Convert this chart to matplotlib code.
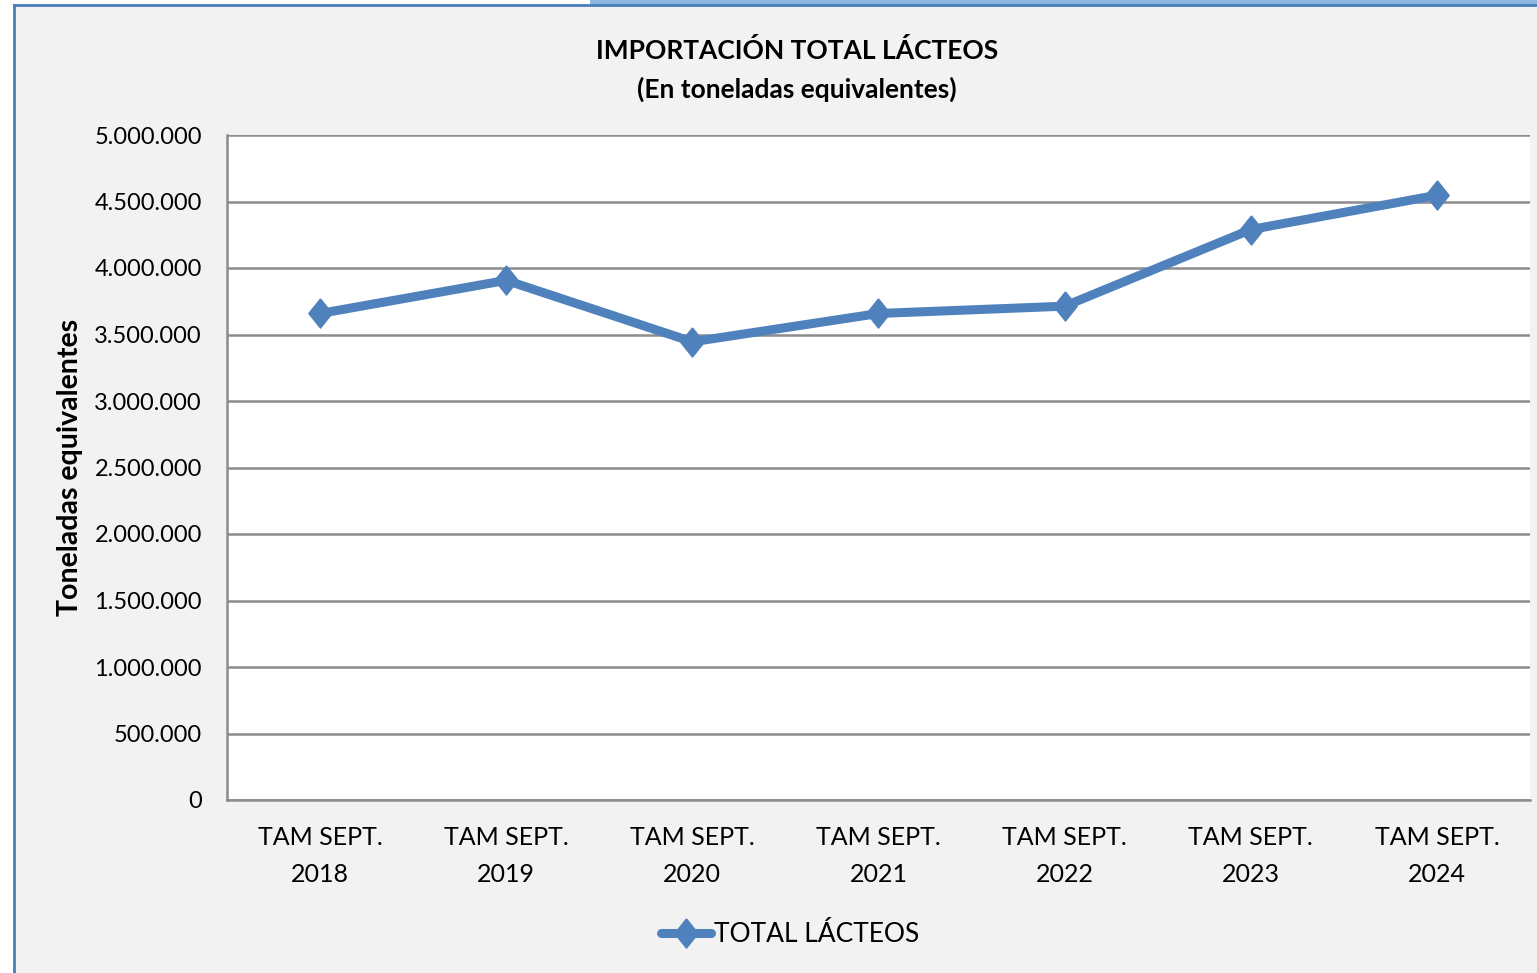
import matplotlib
matplotlib.use("Agg")
import matplotlib.pyplot as plt
from matplotlib.lines import Line2D
from matplotlib.patches import Rectangle
from matplotlib.ticker import FuncFormatter

categories = ["TAM SEPT.\n2018", "TAM SEPT.\n2019", "TAM SEPT.\n2020", "TAM SEPT.\n2021",
              "TAM SEPT.\n2022", "TAM SEPT.\n2023", "TAM SEPT.\n2024"]
total_lacteos = [3658000, 3907000, 3445000, 3658000, 3713000, 4289000, 4547000]
y_ticks = [0, 500000, 1000000, 1500000, 2000000, 2500000, 3000000, 3500000, 4000000, 4500000, 5000000]

plt.rcParams['font.family'] = ['Lato', 'DejaVu Sans']
W, H = 1537, 973
fig = plt.figure(figsize=(W / 100, H / 100), dpi=100)
fig.patch.set_facecolor('#f2f2f2')

# border / top decoration
fig.add_artist(Rectangle((0, 1 - 5 / H), 1, 5 / H, transform=fig.transFigure,
                         facecolor='#ffffff', edgecolor='none'))
fig.add_artist(Rectangle((590 / W, 1 - 5 / H), 1, 5 / H, transform=fig.transFigure,
                         facecolor='#8fb8e0', edgecolor='none'))
fig.add_artist(Rectangle((0, 0), 13 / W, 1 - 5 / H, transform=fig.transFigure,
                         facecolor='#ffffff', edgecolor='none'))
fig.add_artist(Line2D([14 / W, 14 / W], [0, 1 - 5 / H], transform=fig.transFigure,
                      color='#4a7ebb', lw=2))
fig.add_artist(Line2D([14 / W, 1], [1 - 5 / H, 1 - 5 / H], transform=fig.transFigure,
                      color='#4a7ebb', lw=2))

ax = fig.add_axes([227 / W, 1 - 800 / H, (1530 - 227) / W, (800 - 135) / H])
ax.set_facecolor('white')
x = list(range(len(categories)))
diamond = [(0, 1), (0.8, 0), (0, -1), (-0.8, 0), (0, 1)]
line, = ax.plot(x, total_lacteos, color='#4f81bd', lw=6.5, marker=diamond, markersize=21,
                solid_capstyle='round', solid_joinstyle='round', zorder=3,
                label='TOTAL LÁCTEOS')

ax.set_xlim(-0.5, len(categories) - 0.5)
ax.set_ylim(0, 5000000)
ax.set_yticks(y_ticks)
ax.yaxis.set_major_formatter(FuncFormatter(lambda v, p: f"{int(v):,}".replace(",", ".")))
ax.set_xticks(x)
ax.set_xticklabels(categories, fontsize=18, linespacing=1.7)
ax.tick_params(axis='y', labelsize=17, length=0, pad=18)
ax.tick_params(axis='x', length=0, pad=19)
ax.grid(axis='y', color='#8c8c8c', lw=1.8)
ax.set_axisbelow(True)
for s in ['top', 'right']:
    ax.spines[s].set_visible(False)
for s in ['left', 'bottom']:
    ax.spines[s].set_color('#8c8c8c')
    ax.spines[s].set_linewidth(1.8)

ax.set_ylabel('Toneladas equivalentes', fontsize=20.5, fontweight='bold', labelpad=8)
fig.text(797 / W, 1 - 70 / H, 'IMPORTACIÓN TOTAL LÁCTEOS\n(En toneladas equivalentes)',
         ha='center', va='center', fontsize=19, fontweight='bold', linespacing=1.65)

leg = fig.legend(handles=[line], loc='center', bbox_to_anchor=(790 / W, 1 - 935 / H),
                 frameon=False, fontsize=19, handlelength=1.9, handletextpad=0.1,
                 borderpad=0)

fig.savefig('out.png', dpi=100, facecolor=fig.get_facecolor())
